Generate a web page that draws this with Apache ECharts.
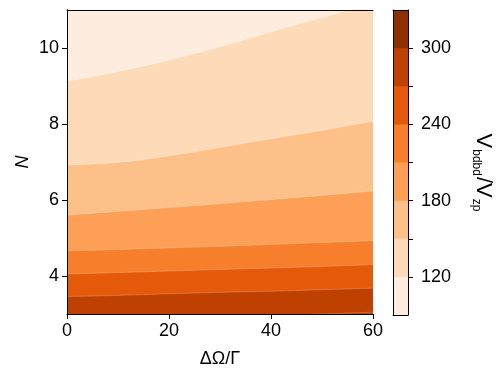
<!DOCTYPE html>
<html lang="en">
<head>
<meta charset="UTF-8">
<title>V vs N and detuning</title>
<script src="https://cdn.jsdelivr.net/npm/echarts@6/dist/echarts.min.js"></script>
<style>
    html, body { margin: 0; padding: 0; background: #fff; }
    #main { width: 498px; height: 373px; }
</style>
</head>
<body>
<div id="main"></div>
<script>
// contour boundaries: N at which each level is reached
var detuning = [0, 10, 20, 30, 40, 50, 60];
var level120 = [9.12, 9.38, 9.68, 10.03, 10.42, 10.8, 11.17];
var level150 = [6.92, 6.99, 7.16, 7.38, 7.61, 7.83, 8.07];
var level180 = [5.6, 5.7, 5.8, 5.9, 6.01, 6.12, 6.24];
var level210 = [4.66, 4.7, 4.74, 4.78, 4.83, 4.88, 4.93];
var level240 = [4.05, 4.09, 4.13, 4.17, 4.21, 4.25, 4.3];
var level270 = [3.46, 3.49, 3.53, 3.57, 3.6, 3.64, 3.68];
var level300 = [2.8, 2.85, 2.89, 2.93, 2.96, 3.0, 3.05];

// colour bar
var levels = [90, 120, 150, 180, 210, 240, 270, 300, 330];
var bandColors = ['#feedde', '#fddbb9', '#fdc089', '#fd9f56', '#f77e2b', '#e5590b', '#be4102', '#8e2f04'];
var cbTicks = [120, 150, 180, 210, 240, 270, 300];
var cbLabels = [120, 180, 240, 300];
var xTicks = [0, 20, 40, 60];
var yTicks = [4, 6, 8, 10];

var chart = echarts.init(document.getElementById('main'));
var font = 'Liberation Sans, Arial, sans-serif';

var boundaries = [level120, level150, level180, level210, level240, level270, level300];
var series = [];
boundaries.forEach(function (b, i) {
    series.push({
        type: 'line',
        xAxisIndex: 0,
        yAxisIndex: 0,
        data: detuning.map(function (x, j) { return [x, b[j]]; }),
        smooth: 0.5,
        symbol: 'none',
        silent: true,
        lineStyle: { width: 0.6, color: 'rgba(255,255,255,0.35)' },
        areaStyle: { color: bandColors[i + 1], opacity: 1, origin: 'start' }
    });
});
// colour bar cells, darkest first so the lower ones sit on top
for (var i = bandColors.length - 1; i >= 0; i--) {
    series.push({
        type: 'bar',
        xAxisIndex: 2,
        yAxisIndex: 2,
        data: [levels[i + 1]],
        barWidth: '100%',
        barGap: '-100%',
        silent: true,
        itemStyle: { color: bandColors[i] }
    });
}

var lineStyle = { color: '#000', width: 1 };
var tickStyle = { show: true, inside: false, length: 5, lineStyle: lineStyle };

chart.setOption({
    animation: false,
    textStyle: { fontFamily: font },
    grid: [
        { left: 67, top: 10, width: 306, height: 305, show: true, backgroundColor: bandColors[0], borderWidth: 0 },
        { left: 393, top: 10, width: 15, height: 305 }
    ],
    xAxis: [
        {
            gridIndex: 0, type: 'value', min: 0, max: 60, interval: 20, position: 'bottom', z: 5,
            axisLine: { lineStyle: lineStyle },
            axisTick: tickStyle,
            axisLabel: { color: '#000', fontSize: 18, margin: 8, customValues: xTicks },
            splitLine: { show: false },
            name: 'ΔΩ/Γ', nameLocation: 'middle', nameGap: 36,
            nameTextStyle: { color: '#000', fontSize: 18 }
        },
        {
            gridIndex: 0, type: 'value', min: 0, max: 60, position: 'top', z: 5,
            axisLine: { lineStyle: lineStyle }, axisTick: { show: false },
            axisLabel: { show: false }, splitLine: { show: false }
        },
        {
            gridIndex: 1, type: 'category', data: ['c'], position: 'bottom', z: 5,
            axisLine: { lineStyle: lineStyle }, axisTick: { show: false },
            axisLabel: { show: false }
        },
        {
            gridIndex: 1, type: 'category', data: ['c'], position: 'top', z: 5,
            axisLine: { lineStyle: lineStyle }, axisTick: { show: false },
            axisLabel: { show: false }
        }
    ],
    yAxis: [
        {
            gridIndex: 0, type: 'value', min: 3, max: 11, position: 'left', z: 5,
            axisLine: { show: true, lineStyle: lineStyle },
            axisTick: { show: true, inside: false, length: 5, lineStyle: lineStyle, customValues: yTicks },
            axisLabel: { color: '#000', fontSize: 18, margin: 8, customValues: yTicks },
            splitLine: { show: false },
            name: 'N', nameLocation: 'middle', nameGap: 35, nameMoveOverlap: false,
            nameTextStyle: { color: '#000', fontSize: 18, fontStyle: 'italic' }
        },
        {
            gridIndex: 0, type: 'value', min: 3, max: 11, position: 'right', z: 5,
            axisLine: { show: true, lineStyle: lineStyle }, axisTick: { show: false },
            axisLabel: { show: false }, splitLine: { show: false }
        },
        {
            gridIndex: 1, type: 'value', min: 90, max: 330, position: 'right', z: 5,
            axisLine: { show: true, lineStyle: lineStyle },
            axisTick: { show: true, inside: false, length: 5, lineStyle: lineStyle, customValues: cbTicks },
            axisLabel: { color: '#000', fontSize: 18, margin: 13, customValues: cbLabels },
            splitLine: { show: false }
        },
        {
            gridIndex: 1, type: 'value', min: 90, max: 330, position: 'left', z: 5,
            axisLine: { show: true, lineStyle: lineStyle }, axisTick: { show: false },
            axisLabel: { show: false }, splitLine: { show: false }
        }
    ],
    graphic: [{
        type: 'text',
        x: 482,
        y: 173,
        rotation: -Math.PI / 2,
        style: {
            text: '{v|V}{s|bdbd}{v|/V}{s|zp}',
            align: 'center',
            verticalAlign: 'middle',
            fill: '#000',
            rich: {
                v: { fontSize: 22, lineHeight: 24, verticalAlign: 'top', fontFamily: font },
                s: { fontSize: 12, lineHeight: 13, verticalAlign: 'bottom', padding: [17, 1, 0, 1], fontFamily: font }
            }
        }
    }],
    series: series
});
</script>
</body>
</html>
